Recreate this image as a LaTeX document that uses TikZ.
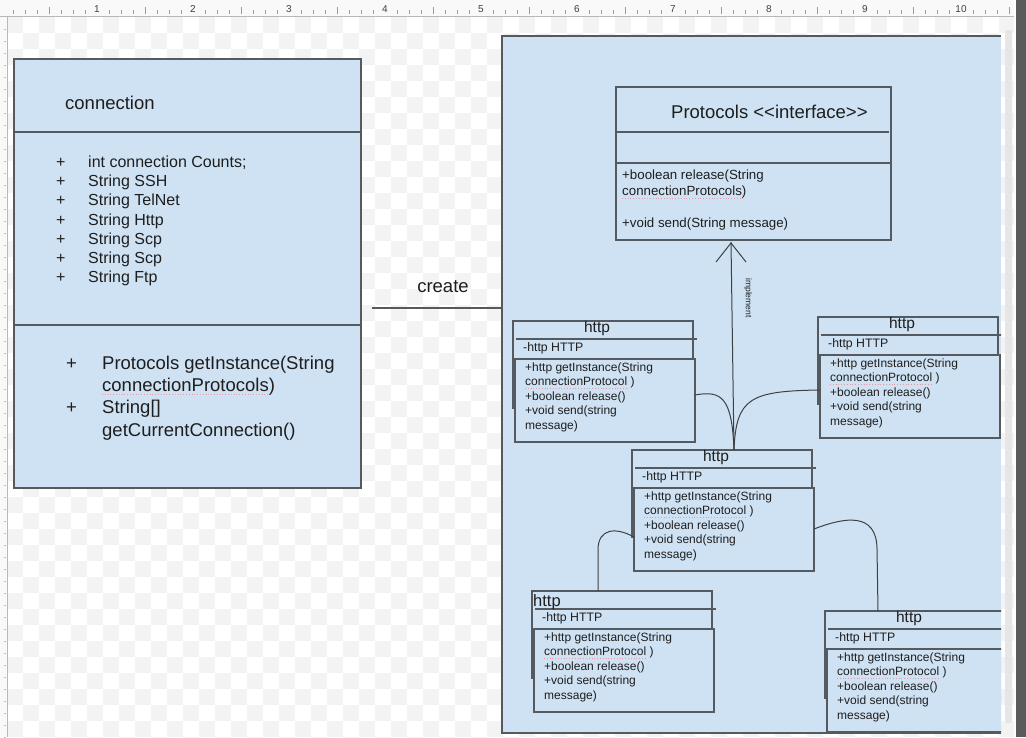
\documentclass[tikz,border=0pt]{standalone}
\usepackage{fontspec}
\setmainfont{Liberation Sans}
\usetikzlibrary{calc}
\definecolor{boxfill}{HTML}{CFE2F3}
\definecolor{edge}{HTML}{555A60}
\definecolor{ink}{HTML}{1E1E1E}
\definecolor{chk}{HTML}{F3F3F3}
\definecolor{rulerbg}{HTML}{F9F9F9}
\definecolor{tickc}{HTML}{9A9A9A}
\definecolor{squigc}{HTML}{E29AA4}
\definecolor{darkstrip}{HTML}{5B5B5B}
\definecolor{scrollc}{HTML}{E6E6E6}
\newcommand\fs[1]{\fontsize{#1}{#1}\selectfont}
\newcommand\txt[5]{\node[lbl, font=\fs{#4}] (#1) at ({#2},{#3+0.36*#4}) {#5};}
\tikzset{
  box/.style={draw=edge, fill=boxfill, line width=1.2pt, anchor=north west, inner sep=0pt, outer sep=0pt},
  lbl/.style={anchor=base west, inner sep=0pt, text=ink},
  edgeline/.style={draw=edge, line width=1.2pt},
  conn/.style={draw=ink!85, line width=1pt},
  squig/.style={draw=squigc, line width=0.8pt, dotted},
}
\newcommand\httpbox[3]{%
  \node[box, minimum width=180pt, minimum height=87pt] (#1) at (#2,#3) {};
  \draw[edgeline] ({#2+3},{#3+18}) -- ({#2+184},{#3+18});
  \txt{#1a}{#2+10}{#3+26}{12.3}{-http HTTP}
  \node[box, minimum width=180pt, minimum height=83pt] (#1m) at ({#2+2},{#3+38}) {};
  \txt{#1l1}{#2+12}{#3+46}{12}{+http getInstance(String}
  \txt{#1l2}{#2+12}{#3+60.5}{12}{connectionProtocol )}
  \txt{#1l3}{#2+12}{#3+75}{12}{+boolean release()}
  \txt{#1l4}{#2+12}{#3+89.5}{12}{+void send(string}
  \txt{#1l5}{#2+12}{#3+104}{12}{message)}
  \draw[squig] ($(#1l2.base west)+(0,2.5)$) -- ++(101,0);
}
\begin{document}
\begin{tikzpicture}[x=1pt,y=-1pt]
\useasboundingbox (0,0) rectangle (1026,737);
% canvas background with checkerboard
\fill[white] (0,0) rectangle (1026,737);
\begin{scope}
\clip (7,17) rectangle (1014,737);
\foreach \i in {0,...,63}{\foreach \j in {0,...,45}{%
  \pgfmathtruncatemacro\m{mod(\i+\j,2)}%
  \ifnum\m=0 \fill[chk] ({7+16*\i},{17+16*\j}) rectangle ++(16,16);\fi}}
\end{scope}
% rulers
\fill[rulerbg] (0,0) rectangle (1014,16);
\fill[rulerbg] (0,16) rectangle (7,737);
\draw[tickc!70, line width=0.8pt] (0,16.5) -- (1014,16.5);
\draw[tickc!70, line width=0.8pt] (7.5,16) -- (7.5,737);
\foreach \k in {0,...,84}{%
  \pgfmathtruncatemacro\r{mod(\k,8)}%
  \ifnum\r=4 \draw[tickc, line width=0.6pt] ({1+12*\k},7) -- ({1+12*\k},14);
  \else\ifnum\r=0 \else \draw[tickc, line width=0.6pt] ({1+12*\k},10) -- ({1+12*\k},14);\fi\fi}
\foreach \n in {1,...,10}{\node[font=\fs{10}, text=black!75, inner sep=0pt] (rn\n) at ({1+96*\n},9) {\n};}
\foreach \k in {1,...,60}{\draw[tickc!60, line width=0.5pt] (4,{17+12*\k}) -- (6,{17+12*\k});}
% right strip and scrollbar
\fill[darkstrip] (1016,0) rectangle (1026,737);
\fill[scrollc, rounded corners=2pt] (1005,30) rectangle (1012,723);

% ---------------- connection class ----------------
\node[box, minimum width=347pt, minimum height=429pt] (connbox) at (14,59) {};
\draw[edgeline] (14,132) -- (361,132);
\draw[edgeline] (14,325) -- (361,325);
\txt{ctitle}{65}{103}{18.5}{connection}
\foreach \yy/\t [count=\c] in {162/int connection Counts;,181/String SSH,200/String TelNet,220/String Http,239/String Scp,258/String Scp,277/String Ftp}{%
  \txt{cp\c}{56}{\yy}{16}{+}
  \txt{ca\c}{88}{\yy}{16}{\t}}
\txt{cmp1}{66}{363}{18.5}{+}
\txt{cm1}{102}{363}{18.5}{Protocols getInstance(String}
\txt{cm2}{102}{385}{18.5}{connectionProtocols)}
\txt{cmp2}{66}{407}{18.5}{+}
\txt{cm3}{102}{407}{18.5}{String[]}
\txt{cm4}{102}{430}{18.5}{getCurrentConnection()}
\draw[squig] ($(cm2.base west)+(0,3)$) -- ++(166,0);

% ---------------- container ----------------
\node[fill=boxfill, anchor=north west, inner sep=0pt, outer sep=0pt, minimum width=499pt, minimum height=697pt] (cont) at (502,36) {};
\draw[edgeline] (1001,36) -- (cont.north west) -- (cont.south west) -- (1001,733);

% create label and line
\node[font=\fs{18.5}, text=ink, inner sep=0pt] (create) at (443,287) {create};
\coordinate (createL) at (372,308);
\draw[draw=edge, line width=1.4pt] (createL) -- (cont.west |- createL);

\begin{scope}
\clip (503,37) rectangle (1001,733);
% Protocols interface
\node[box, minimum width=275pt, minimum height=153pt] (proto) at (616,87) {};
\draw[edgeline] (617,132) -- (889,132);
\draw[edgeline] (616,163) -- (891,163);
\txt{ptitle}{671}{112}{18.5}{Protocols <{}<interface>{}>}
\txt{pm1}{622}{175}{13.3}{+boolean release(String}
\txt{pm2}{622}{191}{13.3}{connectionProtocols)}
\txt{pm3}{622}{223}{13.3}{+void send(String message)}
\draw[squig] ($(pm2.base west)+(0,2.5)$) -- ++(122,0);

% http boxes
\httpbox{hA}{513}{321}
\node[font=\fs{15.5}, text=ink, inner sep=0pt] (hAt) at (597,328) {http};
\httpbox{hB}{818}{317}
\node[font=\fs{15.5}, text=ink, inner sep=0pt] (hBt) at (902,324) {http};
\httpbox{hD}{532}{591}
\node[font=\fs{16.5}, text=ink, inner sep=0pt, anchor=west] (hDt) at (533,602) {http};
\httpbox{hE}{825}{611}
\node[font=\fs{15.5}, text=ink, inner sep=0pt] (hEt) at (909,618) {http};
\httpbox{hC}{632}{450}
\node[font=\fs{15.5}, text=ink, inner sep=0pt] (hCt) at (716,457) {http};

% implement connector
\coordinate (impTop) at (proto.south -| 731,0);
\coordinate (impBot) at (hC.north -| 734,0);
\draw[conn] (impBot) -- ($(impTop)+(0,2)$);
\draw[conn] (716,262) -- ($(impTop)+(0,3)$) -- (746,262);
\node[font=\fs{8.5}, text=ink, rotate=-90, inner sep=0pt] (impl) at (748,298) {implement};
% cusp curves into the implement line
\coordinate (aR) at (hAm.east |- 0,395);
\coordinate (bL) at (hBm.west |- 0,390);
\draw[conn] (aR) .. controls (722,390) and (732,398) .. (impBot);
\draw[conn] (bL) .. controls (750,391) and (736,398) .. (impBot);
% D to C
\coordinate (dTop) at (hD.north -| 598,0);
\coordinate (cL) at (hCm.west |- 0,537);
\draw[conn] (dTop) -- (598,550) .. controls (598,528) and (616,527) .. (cL);
% C to E
\coordinate (cR) at (hCm.east |- 0,529);
\coordinate (eTop) at (hE.north -| 878,0);
\draw[conn] (cR) .. controls (845,517) and (876,512) .. (877,548) -- (eTop);
\end{scope}
\end{tikzpicture}
\end{document}
